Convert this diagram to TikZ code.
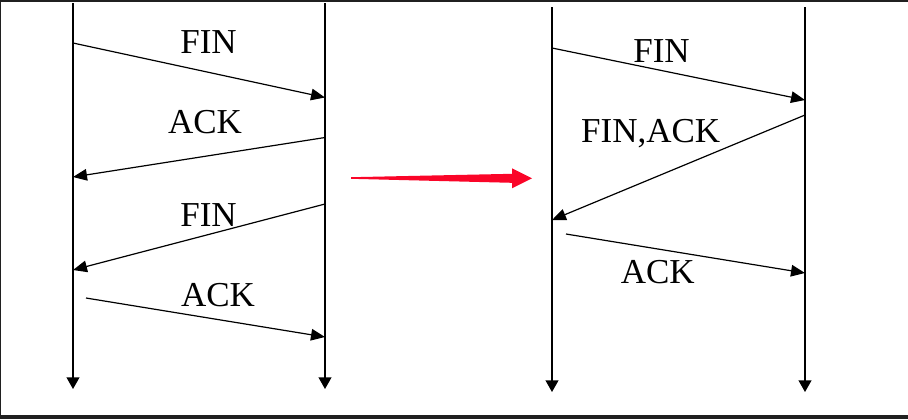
\documentclass[tikz,border=0pt]{standalone}
\usepackage{fontspec}
\setmainfont{Liberation Serif}
\usetikzlibrary{arrows.meta}
\definecolor{framegray}{RGB}{32,32,32}
\definecolor{arrowred}{RGB}{250,5,40}
\tikzset{
  timeline/.style={line width=0.65pt,-{Triangle[length=5.8pt,width=6.4pt]}},
  msg/.style={line width=0.6pt,-{Triangle[length=7pt,width=5.8pt]}},
  lbl/.style={anchor=base,inner sep=0pt,font=\fontsize{17.5}{20}\selectfont}
}

\begin{document}
\begin{tikzpicture}[x=0.5pt,y=-0.5pt]
  \fill[framegray] (0,0) rectangle (908,419);
  \fill[white] (1,2) rectangle (908,415);
  \useasboundingbox (0,0) rectangle (908,419);
  % time lines
  \foreach \n/\x/\top/\bot in {a/73/3/389, b/325/3/389, c/552/7/392, d/805/7/392}
    \draw[timeline] (\x,\top) coordinate (\n top) -- (\x,\bot) coordinate (\n bot);
  % four-way close
  \coordinate (a1) at (73,43);   \coordinate (b1) at (325,97.5);
  \coordinate (b2) at (325,137.5); \coordinate (a2) at (73,177);
  \coordinate (b3) at (325,204); \coordinate (a3) at (73,270);
  \coordinate (a4) at (86,298);  \coordinate (b4) at (325,337);
  \draw[msg] (a1) -- (b1);
  \draw[msg] (b2) -- (a2);
  \draw[msg] (b3) -- (a3);
  \draw[msg] (a4) -- (b4);
  \node[lbl] (finA) at (208.5,53) {FIN};
  \node[lbl] (ackA) at (205,133) {ACK};
  \node[lbl] (finB) at (208.5,226) {FIN};
  \node[lbl] (ackB) at (218,306) {ACK};
  % three-way close
  \coordinate (c1) at (552,48);  \coordinate (d1) at (805,100);
  \coordinate (d2) at (805,115); \coordinate (c2) at (552,220);
  \coordinate (c3) at (566,234); \coordinate (d3) at (805,273);
  \draw[msg] (c1) -- (d1);
  \draw[msg] (d2) -- (c2);
  \draw[msg] (c3) -- (d3);
  \node[lbl] (finC) at (661.5,62) {FIN};
  \node[lbl] (finackC) at (650.7,142) {FIN,ACK};
  \node[lbl] (ackC) at (657.7,283) {ACK};
  % red arrow
  \coordinate (redtail) at (351,178);
  \coordinate (redtip) at (532,178.3);
  \fill[arrowred] (redtail) -- ++(0,-0.8) -- (512,173.8) -- (512,168.3) -- (redtip)
    -- (512,188.3) -- (512,182.8) -- (351,178.8) -- cycle;
\end{tikzpicture}
\end{document}
